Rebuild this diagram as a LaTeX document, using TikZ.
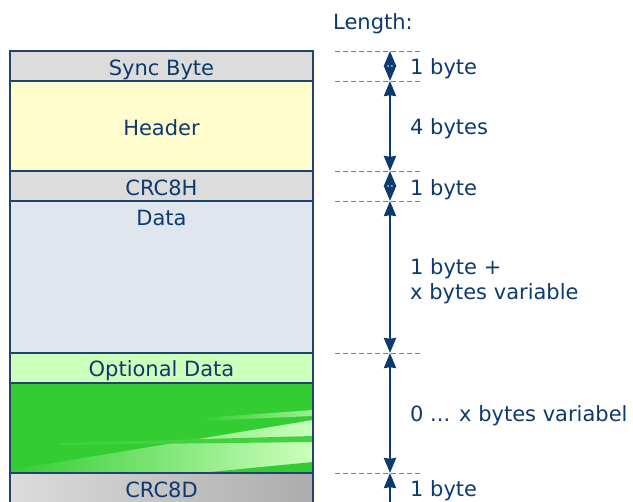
\documentclass[tikz,border=0pt]{standalone}
\usepackage{fontspec}
\setmainfont{DejaVu Sans}
\usetikzlibrary{arrows.meta}
\definecolor{txt}{HTML}{0D3A6E}
\definecolor{frame}{HTML}{23436F}
\definecolor{syncgray}{HTML}{DCDCDC}
\definecolor{headyellow}{HTML}{FFFDCC}
\definecolor{datablue}{HTML}{DFE6EE}
\definecolor{optlight}{HTML}{CCFFBB}
\definecolor{optgreen}{HTML}{33CC33}
\definecolor{dashcol}{HTML}{6A84A4}
\tikzset{
  box/.style={draw=frame, line width=1.3pt, minimum width=303pt, inner sep=0pt, outer sep=0pt},
  btxt/.style={text=txt, inner sep=0pt, anchor=base},
  lbl/.style={text=txt, anchor=base west, inner sep=0pt, align=left},
  dashline/.style={draw=dashcol, dash pattern=on 5pt off 3pt, line width=0.9pt},
  tip/.tip={Stealth[length=15pt,width=12pt,inset=0.8pt]},
  dim/.style={draw=txt, line width=2.6pt, tip-tip}
}
\begin{document}
\begin{tikzpicture}[x=1pt,y=-1pt, font=\fontsize{21}{25}\selectfont]
\useasboundingbox (0,0) rectangle (633,502);
\clip (0,0) rectangle (633,502);
% boxes
\node[box, fill=syncgray, minimum height=30pt] (sync) at (161.5,66) {};
\node[box, fill=headyellow, minimum height=90pt] (header) at (161.5,126) {};
\node[box, fill=syncgray, minimum height=30pt] (crch) at (161.5,186) {};
\node[box, fill=datablue, minimum height=152pt] (data) at (161.5,277) {};
% optional data: gradient area
\fill[optgreen] (10,383) rectangle (313,473);
\shade[left color=optgreen, right color=optlight] (10,470) -- (313,420) -- (313,473) -- (10,473) -- cycle;
\shade[left color=optgreen, right color=optlight!70!optgreen] (200,418) -- (313,410) -- (313,416) -- (200,421) -- cycle;
\fill[optgreen!90!optlight] (60,443) -- (313,436) -- (313,442) -- (60,445) -- cycle;
\fill[optgreen] (200,473) -- (313,462) -- (313,473) -- cycle;
\node[box, fill=optlight, minimum height=30pt] (opt) at (161.5,368) {};
\node[box, minimum height=120pt] (optall) at (161.5,413) {};
\node[box, left color=syncgray, right color=gray!65, minimum height=44pt] (crcd) at (161.5,495) {};
% box texts
\node[btxt] (synct) at (161.5,75.5) {Sync Byte};
\node[btxt] (headert) at (161.5,135.5) {Header};
\node[btxt] (crcht) at (161.5,195.5) {CRC8H};
\node[btxt] (datat) at (161.5,225.5) {Data};
\node[btxt] (optt) at (161.5,376.5) {Optional Data};
\node[btxt] (crcdt) at (161.5,497.5) {CRC8D};
% length column
\node[lbl] (len) at (333,30) {Length:};
\foreach \i/\y in {0/51,1/81,2/171,3/201,4/353,5/473} {
  \draw[dashline] (335,\y) -- (420,\y);
  \coordinate (d\i) at (390,\y);
}
\coordinate (d6) at (390,510);
\draw[dim] (d0) -- (d1);
\draw[dim] (d1) -- (d2);
\draw[dim] (d2) -- (d3);
\draw[dim] (d3) -- (d4);
\draw[dim] (d4) -- (d5);
\draw[dim, tip-] (d5) -- (d6);
\node[lbl] (l1) at (410,75) {1 byte};
\node[lbl] (l2) at (410,135) {4 bytes};
\node[lbl] (l3) at (410,196) {1 byte};
\node[lbl] (l4) at (410,299.5) {1 byte +\\x bytes variable};
\node[lbl] (l5) at (410,422) {0 ... x bytes variabel};
\node[lbl] (l6) at (410,497) {1 byte};
\end{tikzpicture}
\end{document}
